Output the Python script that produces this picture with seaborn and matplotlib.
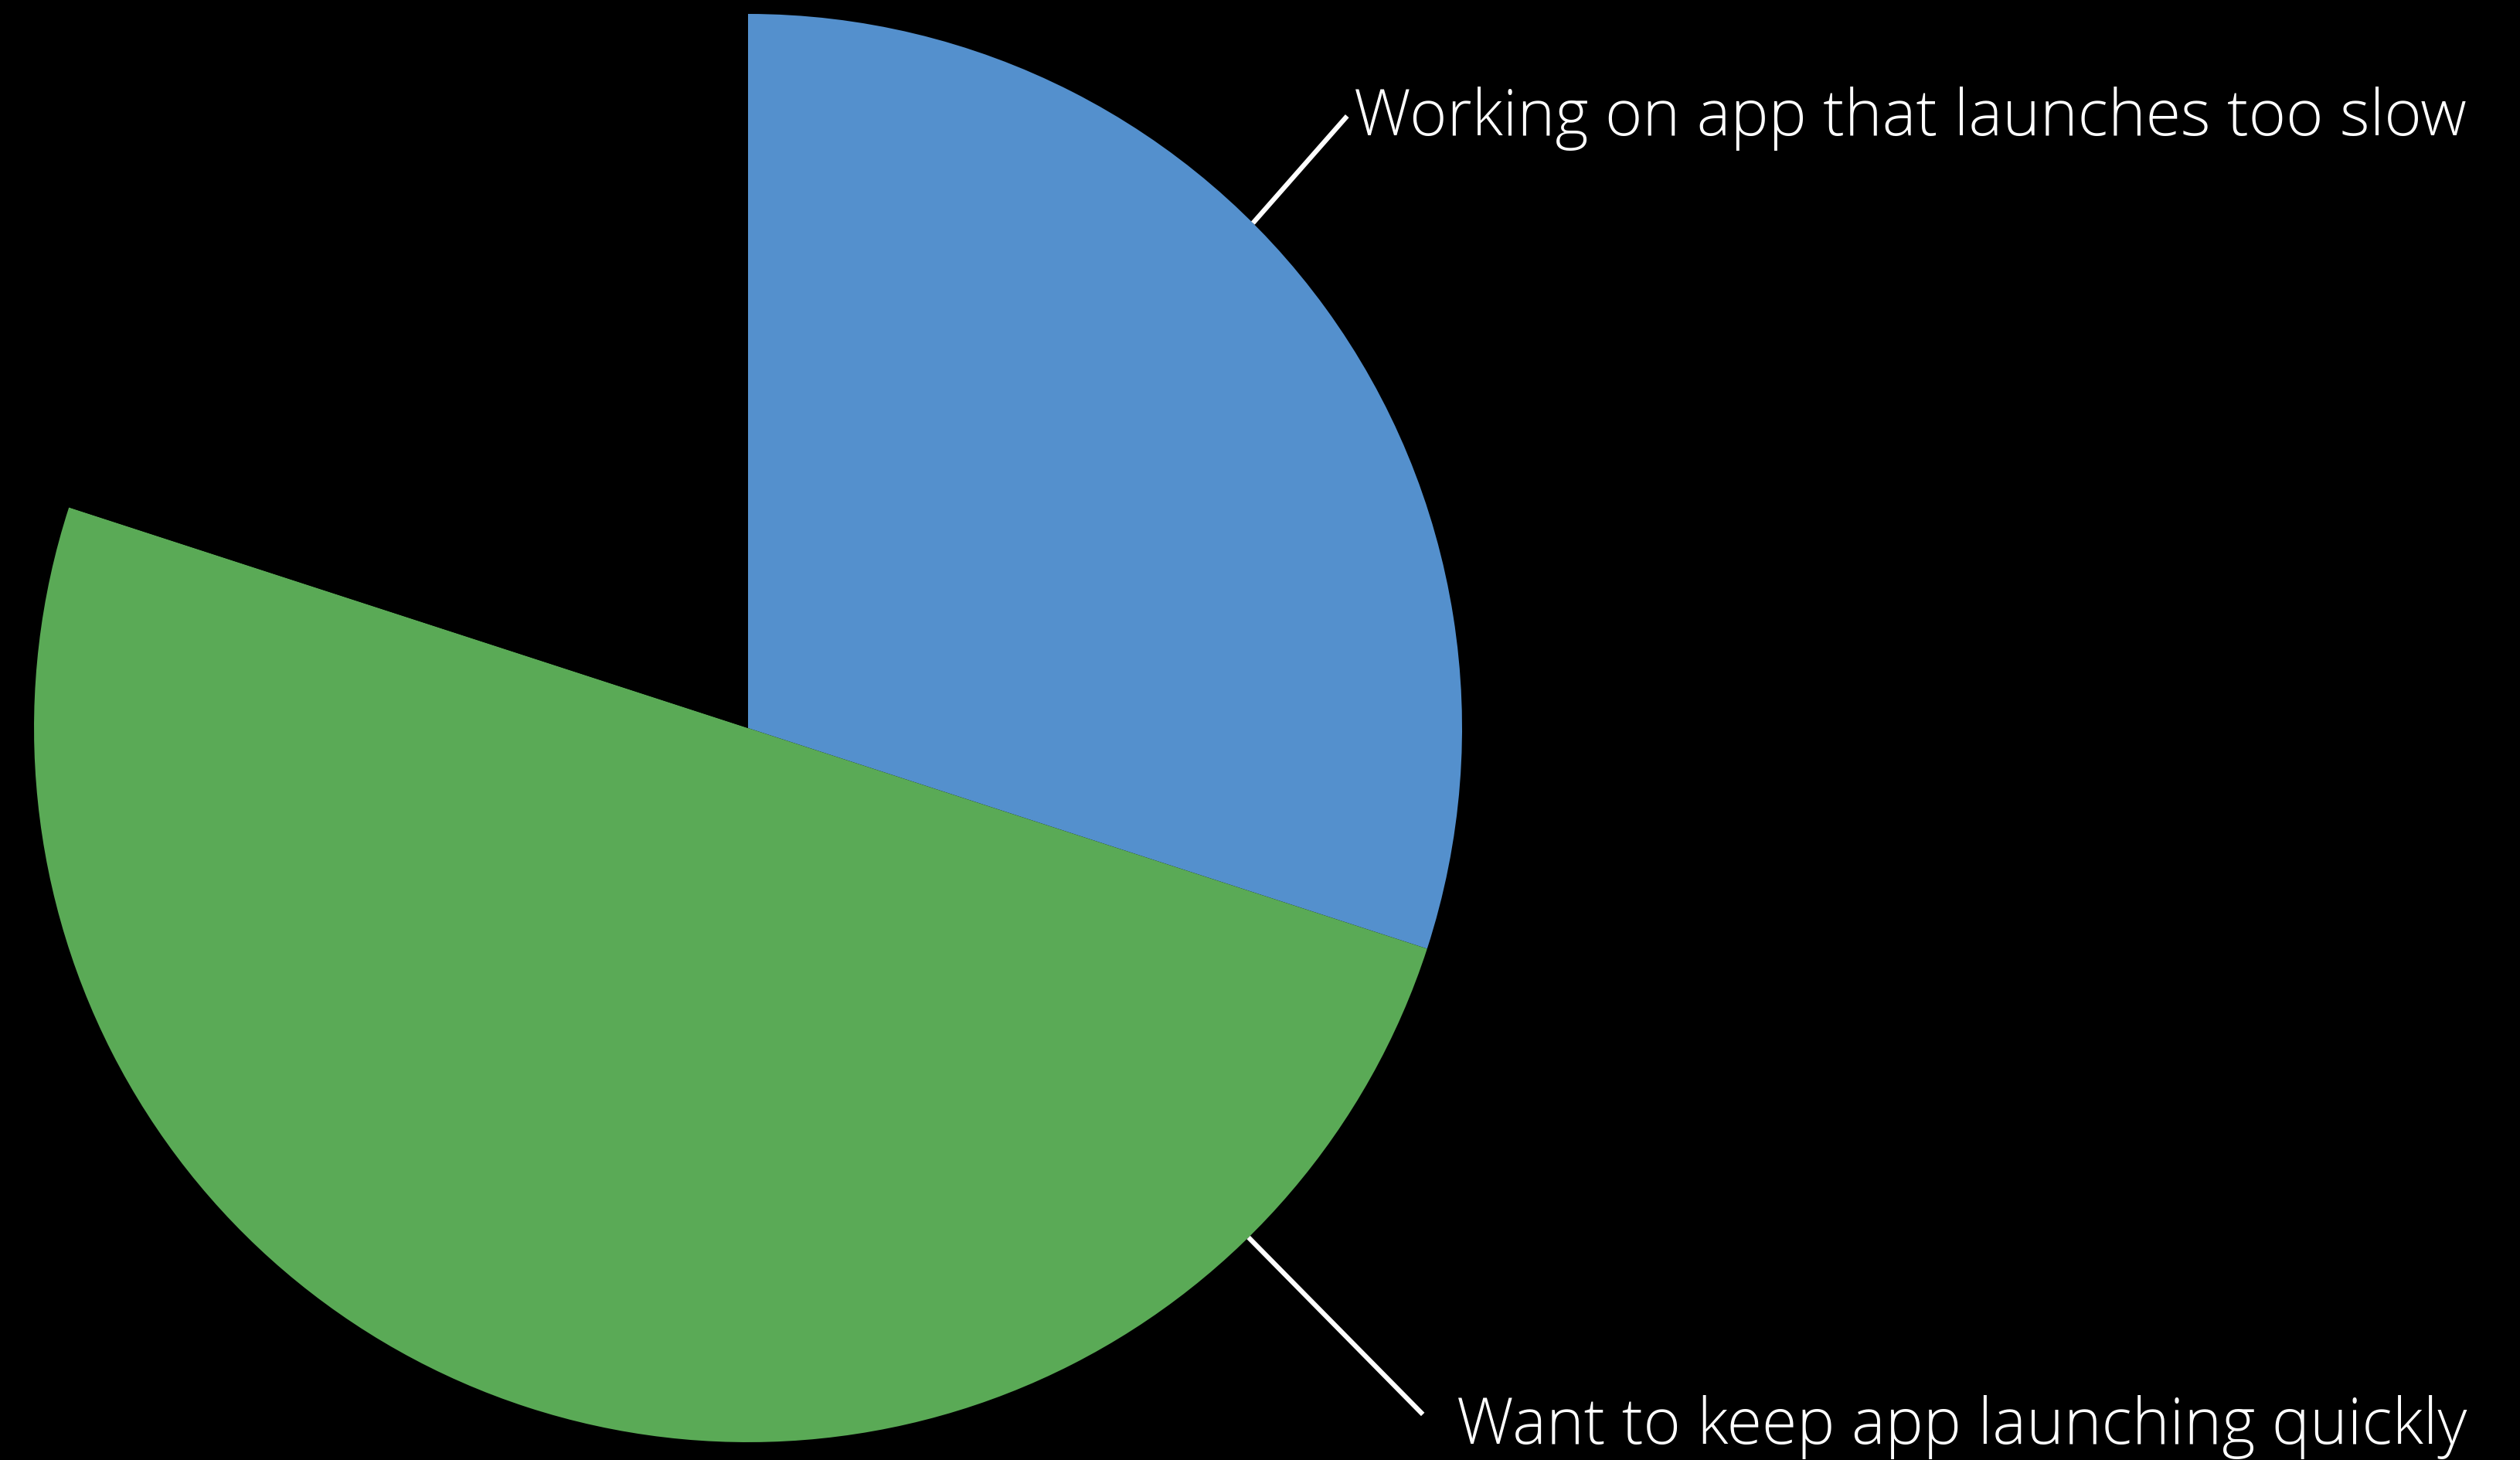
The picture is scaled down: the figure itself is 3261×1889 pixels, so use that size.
import matplotlib
matplotlib.use("Agg")
import matplotlib.pyplot as plt
import seaborn as sns
import numpy as np

categories = ["Working on app that launches too slow",
              "Want to keep app launching quickly",
              "Other"]
values = [30, 50, 20]
colors = ["#5490CD", "#5AAA56", "#000000"]

sns.set_theme(style="white")
plt.rcParams['font.family'] = ['Open Sans', 'DejaVu Sans']

W, H, DPI = 3261, 1889, 100
fig = plt.figure(figsize=(W / DPI, H / DPI), dpi=DPI, facecolor="black")
ax = fig.add_axes([0, 0, 1, 1])
ax.set_facecolor("black")

cx, cy, R = 968, 942, 924
ax.pie(values, colors=colors, startangle=90, counterclock=False, radius=1,
       center=(0, 0), wedgeprops=dict(linewidth=0, edgecolor="none"))
ax.set_xlim(-cx / R, (W - cx) / R)
ax.set_ylim(-(H - cy) / R, cy / R)
ax.set_aspect("equal")
ax.axis("off")

# leader lines
a1 = np.deg2rad(45)
ax.plot([np.sin(a1), 0.839], [np.cos(a1), 0.857], color="white", lw=4.5,
        solid_capstyle="butt")
a2 = np.deg2rad(135.5)
ax.plot([np.sin(a2), 0.945], [np.cos(a2), -0.961], color="white", lw=4.5,
        solid_capstyle="butt")

ax.text(2.407, 0.830, categories[0], color="white", fontsize=59.5,
        fontweight="light", ha="right", va="baseline")
ax.text(2.407, -1.002, categories[1], color="white", fontsize=59.5,
        fontweight="light", ha="right", va="baseline")

fig.savefig("out.png", dpi=DPI, facecolor="black")
